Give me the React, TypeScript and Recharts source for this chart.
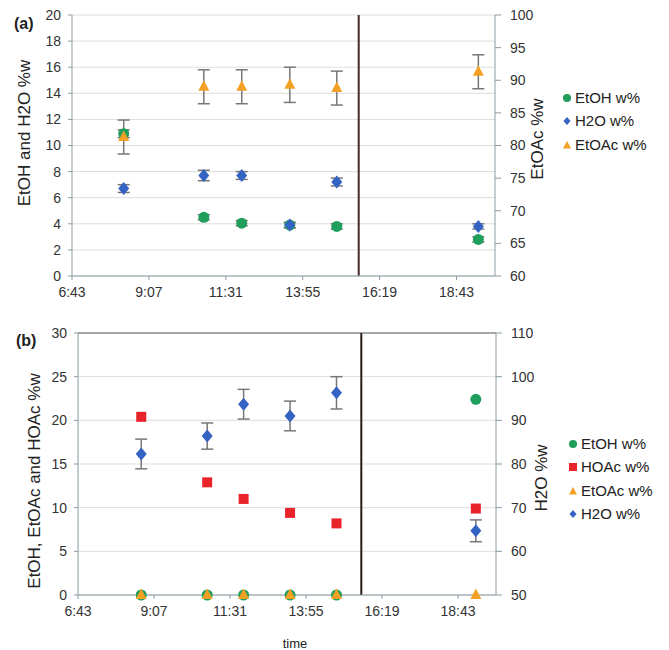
import {
  ComposedChart,
  Scatter,
  XAxis,
  YAxis,
  CartesianGrid,
  ErrorBar,
  ReferenceLine,
  Legend,
} from "recharts";

const FONT = "'Liberation Sans', Arial, sans-serif";

// time axis in minutes from midnight (Excel days 0.28 .. 0.83, step 0.1)
const timeTicks = [403.2, 547.2, 691.2, 835.2, 979.2, 1123.2];
const timeDomain = [403.2, 1195.2];
const splitTime = 940;

// panel (a)
const timesA = [500, 650, 721, 811, 899, 1164];
const etohA = [10.9, 4.5, 4.05, 3.9, 3.8, 2.8];
const etohErrA = [0.3, 0.2, 0.2, 0.2, 0.2, 0.2];
const h2oA = [6.7, 7.7, 7.7, 3.9, 7.2, 3.8];
const h2oErrA = [0.3, 0.4, 0.3, 0.2, 0.3, 0.2];
const etoacA = [81.3, 89.0, 89.0, 89.3, 88.8, 91.3];
const etoacErrA = [2.6, 2.6, 2.6, 2.7, 2.6, 2.6];
const leftTicksA = [0, 2, 4, 6, 8, 10, 12, 14, 16, 18, 20];
const rightTicksA = [60, 65, 70, 75, 80, 85, 90, 95, 100];

// panel (b)
const timesB = [523, 648, 717, 805, 893, 1157];
const etohB = [0, 0, 0, 0, 0, 22.4];
const hoacB = [20.4, 12.9, 11.0, 9.4, 8.2, 9.9];
const etoacB = [0, 0, 0, 0, 0, 0];
const h2oB = [82.3, 86.4, 93.7, 91.0, 96.3, 64.7];
const h2oErrB = [3.4, 3.0, 3.4, 3.4, 3.7, 2.5];
const leftTicksB = [0, 5, 10, 15, 20, 25, 30];
const rightTicksB = [50, 60, 70, 80, 90, 100, 110];

const GREEN = "#1f9e5c";
const BLUE = "#3563c4";
const ORANGE = "#f4a025";
const RED = "#e8232a";
const AXIS = "#8a9ba3";
const GRID = "#dcdcdc";

const legendA = [
  { name: "EtOH w%", color: GREEN, kind: "circle" },
  { name: "H2O w%", color: BLUE, kind: "diamond" },
  { name: "EtOAc w%", color: ORANGE, kind: "triangle" },
];
const legendB = [
  { name: "EtOH w%", color: GREEN, kind: "circle" },
  { name: "HOAc w%", color: RED, kind: "square" },
  { name: "EtOAc w%", color: ORANGE, kind: "triangle" },
  { name: "H2O w%", color: BLUE, kind: "diamond" },
];

const rows = (t: number[], v: number[], e?: number[]) =>
  t.map((x, i) => ({ t: x, v: v[i], e: e ? e[i] : 0 }));

const fmtTime = (m: number) => {
  const h = Math.floor(m / 60);
  const mm = Math.floor(m - h * 60);
  return `${h}:${mm < 10 ? "0" + mm : mm}`;
};

const CircleDot = (p: any) => (
  <circle cx={p.cx} cy={p.cy} r={5.5} fill={p.fill} />
);
const DiamondDot = (p: any) => (
  <path
    d={`M${p.cx},${p.cy - 6.5}L${p.cx + 5.5},${p.cy}L${p.cx},${p.cy + 6.5}L${p.cx - 5.5},${p.cy}Z`}
    fill={p.fill}
  />
);
const TriangleDot = (p: any) => (
  <path
    d={`M${p.cx},${p.cy - 6.5}L${p.cx + 5.5},${p.cy + 4}L${p.cx - 5.5},${p.cy + 4}Z`}
    fill={p.fill}
  />
);
const SquareDot = (p: any) => (
  <rect x={p.cx - 5} y={p.cy - 5} width={10} height={10} fill={p.fill} />
);

function LegendIcon({ kind, color }: { kind: string; color: string }) {
  let mark;
  if (kind === "circle") mark = <circle cx={5} cy={5} r={4} fill={color} />;
  else if (kind === "diamond")
    mark = <path d="M5,1L8.5,5L5,9L1.5,5Z" fill={color} />;
  else if (kind === "triangle")
    mark = <path d="M5,1L9,8.5L1,8.5Z" fill={color} />;
  else mark = <rect x={1} y={1} width={8} height={8} fill={color} />;
  return (
    <svg width={10} height={10} style={{ verticalAlign: "middle", marginRight: 3 }}>
      {mark}
    </svg>
  );
}

const makeLegend = (items: typeof legendA) => () => (
  <div>
    {items.map((it) => (
      <div key={it.name} style={{ whiteSpace: "nowrap", color: "#222" }}>
        <LegendIcon kind={it.kind} color={it.color} />
        <span style={{ verticalAlign: "middle" }}>{it.name}</span>
      </div>
    ))}
  </div>
);

const tickStyle = { fill: "#333", fontSize: 14, fontFamily: FONT };

function TimeAxis() {
  return (
    <XAxis
      dataKey="t"
      type="number"
      domain={timeDomain}
      ticks={timeTicks}
      tickFormatter={fmtTime}
      tick={{ ...tickStyle, dy: 5 }}
      axisLine={{ stroke: AXIS }}
      tickLine={{ stroke: AXIS }}
      tickSize={4}
      height={30}
      allowDataOverflow
    />
  );
}

const legendStyle = {
  fontSize: 15,
  fontFamily: FONT,
  lineHeight: "22.5px",
  width: 110,
};

function PanelA() {
  return (
    <ComposedChart
      width={669}
      height={300}
      margin={{ top: 15, right: 134, left: 32, bottom: -6 }}
    >
      <CartesianGrid yAxisId="left" vertical={false} horizontal stroke={GRID} />
      <TimeAxis />
      <YAxis
        yAxisId="left"
        domain={[0, 20]}
        ticks={leftTicksA}
        tick={tickStyle}
        axisLine={{ stroke: AXIS }}
        tickLine={{ stroke: AXIS }}
        tickSize={4}
        tickMargin={7}
        width={40}
        interval={0}
      />
      <YAxis
        yAxisId="right"
        orientation="right"
        domain={[60, 100]}
        ticks={rightTicksA}
        tick={tickStyle}
        axisLine={{ stroke: AXIS }}
        tickLine={{ stroke: AXIS }}
        tickSize={6}
        tickMargin={9}
        width={40}
        interval={0}
      />
      <ReferenceLine yAxisId="left" x={splitTime} stroke="#4a2a26" strokeWidth={2} />
      <Scatter
        name="EtOH w%"
        yAxisId="left"
        data={rows(timesA, etohA, etohErrA)}
        dataKey="v"
        fill={GREEN}
        shape={CircleDot}
        isAnimationActive={false}
      >
        <ErrorBar dataKey="e" direction="y" stroke="#777" width={6} />
      </Scatter>
      <Scatter
        name="H2O w%"
        yAxisId="left"
        data={rows(timesA, h2oA, h2oErrA)}
        dataKey="v"
        fill={BLUE}
        shape={DiamondDot}
        isAnimationActive={false}
      >
        <ErrorBar dataKey="e" direction="y" stroke="#777" width={6} />
      </Scatter>
      <Scatter
        name="EtOAc w%"
        yAxisId="right"
        data={rows(timesA, etoacA, etoacErrA)}
        dataKey="v"
        fill={ORANGE}
        shape={TriangleDot}
        isAnimationActive={false}
      >
        <ErrorBar dataKey="e" direction="y" stroke="#777" width={6} />
      </Scatter>
      <Legend
        layout="vertical"
        align="center"
        verticalAlign="middle"
        content={makeLegend(legendA)}
        wrapperStyle={{ ...legendStyle, left: 562, top: 86 }}
      />
    </ComposedChart>
  );
}

function PanelB() {
  return (
    <ComposedChart
      width={669}
      height={350}
      margin={{ top: 33, right: 133, left: 38, bottom: 25 }}
    >
      <CartesianGrid yAxisId="left" vertical={false} horizontal stroke={GRID} />
      <TimeAxis />
      <YAxis
        yAxisId="left"
        domain={[0, 30]}
        ticks={leftTicksB}
        tick={tickStyle}
        axisLine={{ stroke: AXIS }}
        tickLine={{ stroke: AXIS }}
        tickSize={4}
        tickMargin={7}
        width={40}
        interval={0}
      />
      <YAxis
        yAxisId="right"
        orientation="right"
        domain={[50, 110]}
        ticks={rightTicksB}
        tick={tickStyle}
        axisLine={{ stroke: AXIS }}
        tickLine={{ stroke: AXIS }}
        tickSize={6}
        tickMargin={9}
        width={40}
        interval={0}
      />
      <ReferenceLine yAxisId="left" y={30} stroke="#8a9090" strokeWidth={1.5} />
      <ReferenceLine yAxisId="left" x={splitTime} stroke="#2a1a18" strokeWidth={2} />
      <Scatter
        name="EtOH w%"
        yAxisId="left"
        data={rows(timesB, etohB)}
        dataKey="v"
        fill={GREEN}
        shape={CircleDot}
        isAnimationActive={false}
      />
      <Scatter
        name="HOAc w%"
        yAxisId="left"
        data={rows(timesB, hoacB)}
        dataKey="v"
        fill={RED}
        shape={SquareDot}
        isAnimationActive={false}
      />
      <Scatter
        name="EtOAc w%"
        yAxisId="left"
        data={rows(timesB, etoacB)}
        dataKey="v"
        fill={ORANGE}
        shape={TriangleDot}
        isAnimationActive={false}
      />
      <Scatter
        name="H2O w%"
        yAxisId="right"
        data={rows(timesB, h2oB, h2oErrB)}
        dataKey="v"
        fill={BLUE}
        shape={DiamondDot}
        isAnimationActive={false}
      >
        <ErrorBar dataKey="e" direction="y" stroke="#777" width={6} />
      </Scatter>
      <Legend
        layout="vertical"
        align="center"
        verticalAlign="middle"
        content={makeLegend(legendB)}
        wrapperStyle={{ ...legendStyle, left: 568, top: 132 }}
      />
    </ComposedChart>
  );
}

export default function App() {
  const titleStyle = { fontFamily: FONT, fontSize: 17, fill: "#222" };
  return (
    <div
      style={{
        position: "absolute",
        left: 0,
        top: 0,
        width: 669,
        height: 650,
        background: "#fff",
        overflow: "hidden",
      }}
    >
      <div style={{ position: "absolute", left: 0, top: 0 }}>
        <PanelA />
      </div>
      <div style={{ position: "absolute", left: 0, top: 300 }}>
        <PanelB />
      </div>
      <svg
        width={669}
        height={650}
        style={{ position: "absolute", left: 0, top: 0, pointerEvents: "none" }}
      >
        <text x={14} y={29} style={{ ...titleStyle, fontWeight: "bold", fontSize: 16 }}>
          (a)
        </text>
        <text x={16} y={346} style={{ ...titleStyle, fontWeight: "bold", fontSize: 16 }}>
          (b)
        </text>
        <text
          x={24}
          y={133}
          textAnchor="middle"
          dominantBaseline="central"
          transform="rotate(-90 24 133)"
          style={titleStyle}
        >
          EtOH and H2O %w
        </text>
        <text
          x={537}
          y={139}
          textAnchor="middle"
          dominantBaseline="central"
          transform="rotate(-90 537 139)"
          style={titleStyle}
        >
          EtOAc %w
        </text>
        <text
          x={34}
          y={481}
          textAnchor="middle"
          dominantBaseline="central"
          transform="rotate(-90 34 481)"
          style={titleStyle}
        >
          EtOH, EtOAc and HOAc %w
        </text>
        <text
          x={541}
          y={478}
          textAnchor="middle"
          dominantBaseline="central"
          transform="rotate(-90 541 478)"
          style={titleStyle}
        >
          H2O %w
        </text>
        <text x={295} y={648} textAnchor="middle" style={{ ...titleStyle, fontSize: 13 }}>
          time
        </text>
      </svg>
    </div>
  );
}
